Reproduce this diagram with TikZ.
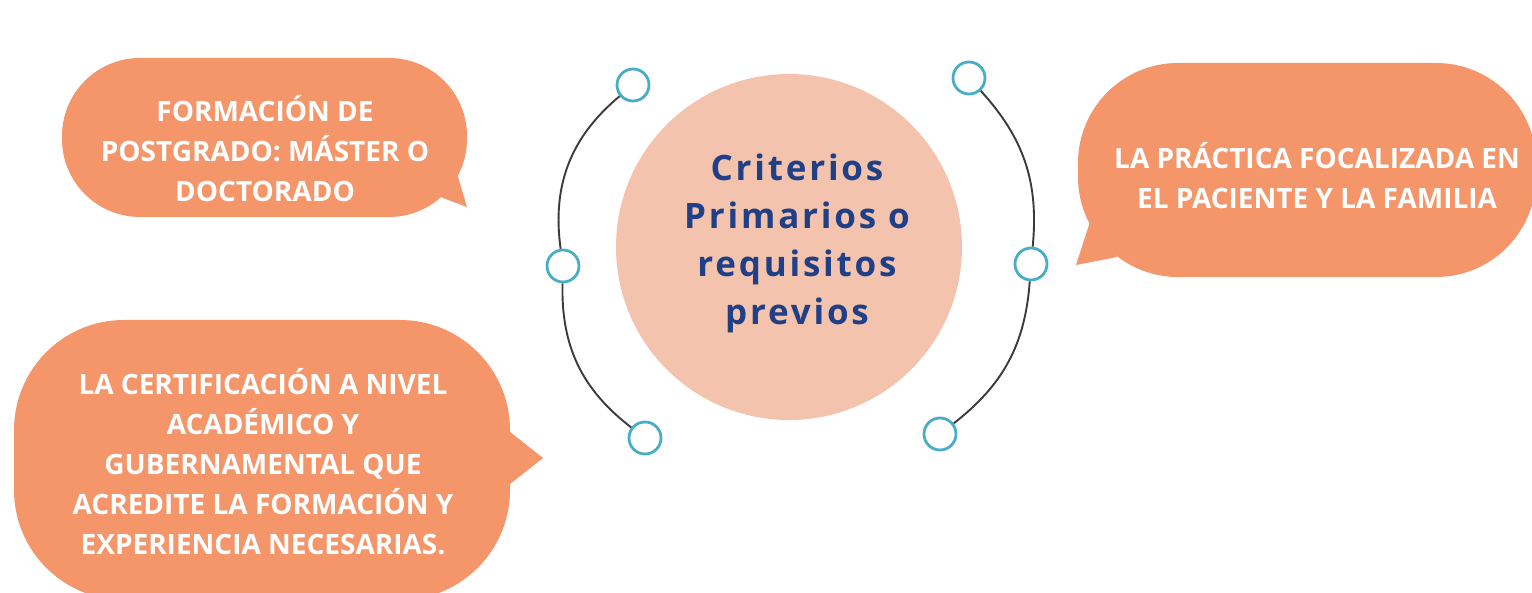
\documentclass[tikz,border=0pt]{standalone}
\usepackage{fontspec}
\setmainfont{Open Sans}
\definecolor{bub}{HTML}{F4956A}
\definecolor{ctr}{HTML}{F3C3AD}
\definecolor{navy}{HTML}{1F3F86}
\definecolor{ringc}{HTML}{4AADC7}
\definecolor{arcc}{HTML}{3B3B3B}
\begin{document}
\begin{tikzpicture}[x=1pt,y=-1pt,
  btext/.style={text=white,font=\fontsize{28}{40}\selectfont\bfseries,align=center,inner sep=0pt},
  ctext/.style={text=navy,font=\fontsize{35}{48}\selectfont\bfseries\addfontfeatures{LetterSpace=8},align=center,inner sep=0pt},
  dot/.style={circle,draw=ringc,line width=2.8pt,minimum size=32pt,inner sep=0pt,fill=white},
  link/.style={draw=arcc,line width=1.9pt},
  bubble/.style={fill=bub}]
\useasboundingbox (0,0) rectangle (1532,593);
\begin{scope}
\clip (0,0) rectangle (1532,593);
% top-left bubble
\fill[bubble] (435,195) -- (467,207) -- (456,170) -- cycle;
\fill[bubble,rounded corners=78] (62,58) rectangle (467,217);
% right bubble
\fill[bubble] (1090,222) -- (1076,265) -- (1117,257) -- cycle;
\fill[bubble,rounded corners=100] (1078,63) rectangle (1536,277);
% bottom-left bubble
\fill[bubble] (505,428) -- (543,458) -- (505,488) -- cycle;
\fill[bubble,rounded corners=110] (14,320) rectangle (510,600);
\end{scope}
\node[btext] (tl) at (265,149) {FORMACIÓN DE\\POSTGRADO: MÁSTER O\\DOCTORADO};
\node[btext] (rt) at (1317,176) {LA PRÁCTICA FOCALIZADA EN\\EL PACIENTE Y LA FAMILIA};
\node[btext] (bl) at (263,462) {LA CERTIFICACIÓN A NIVEL\\ACADÉMICO Y\\GUBERNAMENTAL QUE\\ACREDITE LA FORMACIÓN Y\\EXPERIENCIA NECESARIAS.};
% center
\node[circle,fill=ctr,minimum size=346pt,inner sep=0pt] (core) at (789,247) {};
\node[ctext] (coretext) at (797,243) {Criterios\\Primarios o\\requisitos\\previos};
% rings
\node[dot] (l1) at (633,85) {};
\node[dot] (l2) at (563,266) {};
\node[dot] (l3) at (645,438) {};
\node[dot] (r1) at (969,78) {};
\node[dot] (r2) at (1031,264) {};
\node[dot] (r3) at (940,434) {};
\draw[link] (l1) to[bend right=29] (l2);
\draw[link] (l2) to[bend right=27] (l3);
\draw[link] (r1) to[bend left=24] (r2);
\draw[link] (r2) to[bend left=24] (r3);
\end{tikzpicture}
\end{document}
